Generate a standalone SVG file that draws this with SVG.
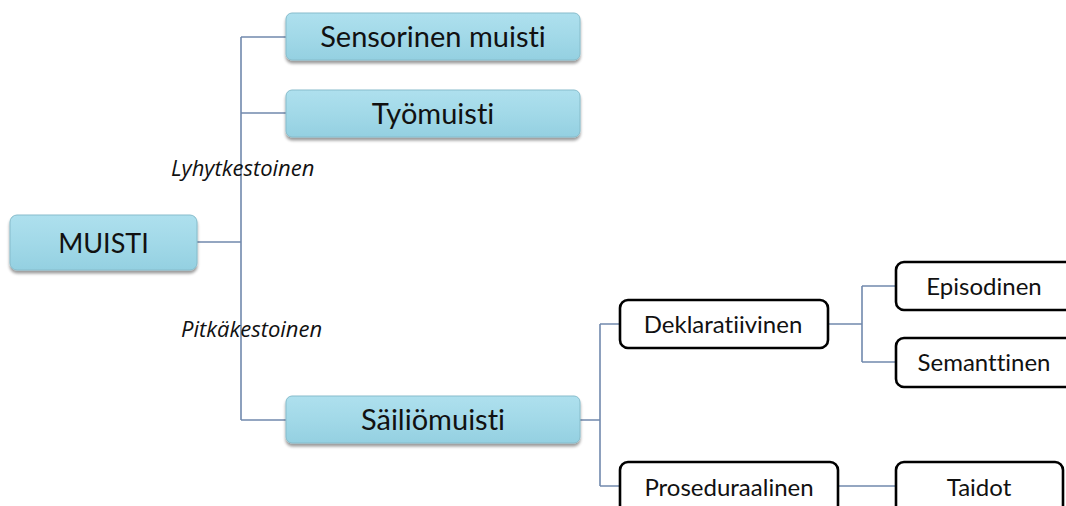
<svg xmlns="http://www.w3.org/2000/svg" width="1066" height="506" viewBox="0 0 1066 506">
  <style>
    .conn { fill: none; stroke: #7189ad; stroke-width: 1.6; }
    .blue { fill: url(#blueFill); stroke: #86bccb; stroke-width: 1; filter: url(#shadow); }
    .white { fill: #ffffff; stroke: #000000; stroke-width: 2.6; }
    text { font-variant-ligatures: none; }
    .big { font-family: Lato, "Open Sans", sans-serif; font-size: 29px; fill: #111; text-anchor: middle; }
    .small { font-family: Lato, "Open Sans", sans-serif; font-size: 24px; fill: #111; text-anchor: middle; }
    .lab { font-family: "Open Sans", "Noto Sans", sans-serif; font-size: 22px; font-style: italic; fill: #111; }
  </style>
  <defs>
    <linearGradient id="blueFill" x1="0" y1="0" x2="0" y2="1">
      <stop offset="0" stop-color="#aee0ee"/>
      <stop offset="0.5" stop-color="#a2d9e8"/>
      <stop offset="1" stop-color="#94d0e1"/>
    </linearGradient>
    <filter id="shadow" x="-10%" y="-20%" width="120%" height="150%">
      <feGaussianBlur in="SourceAlpha" stdDeviation="1.8"/>
      <feOffset dx="0" dy="2.5" result="b"/>
      <feComponentTransfer><feFuncA type="linear" slope="0.4"/></feComponentTransfer>
      <feMerge><feMergeNode/><feMergeNode in="SourceGraphic"/></feMerge>
    </filter>
  </defs>

  <g id="connectors">
    <path class="conn" d="M197 242 H241 M241 37 V420 M241 37 H286 M241 113 H286 M241 420 H286"/>
    <path class="conn" d="M580 420 H600 M600 324 V486 M600 324 H620 M600 486 H620"/>
    <path class="conn" d="M828 324 H862 M862 286 V362 M862 286 H896 M862 362 H896"/>
    <path class="conn" d="M838 486 H896"/>
  </g>

  <g id="labels">
    <text class="lab" x="171" y="176">Lyhytkestoinen</text>
    <text class="lab" x="181" y="337">Pitkäkestoinen</text>
  </g>

  <g id="muisti">
    <rect class="blue" x="10" y="215" width="187" height="55" rx="7"/>
    <text class="big" x="103.500" y="253" style="font-size:27px">MUISTI</text>
  </g>
  <g id="sensorinen">
    <rect class="blue" x="286" y="13" width="294" height="47" rx="6"/>
    <text class="big" x="433" y="47">Sensorinen muisti</text>
  </g>
  <g id="tyomuisti">
    <rect class="blue" x="286" y="90" width="294" height="47" rx="6"/>
    <text class="big" x="433" y="124">Työmuisti</text>
  </g>
  <g id="sailiomuisti">
    <rect class="blue" x="286" y="396" width="294" height="47" rx="6"/>
    <text class="big" x="433" y="430">Säiliömuisti</text>
  </g>

  <g id="deklaratiivinen">
    <rect class="white" x="620" y="300" width="208" height="48" rx="8"/>
    <text class="small" x="723" y="333">Deklaratiivinen</text>
  </g>
  <g id="proseduraalinen">
    <rect class="white" x="620" y="462" width="218" height="56" rx="8"/>
    <text class="small" x="729" y="496">Proseduraalinen</text>
  </g>
  <g id="episodinen">
    <rect class="white" x="896" y="262" width="180" height="48" rx="8"/>
    <text class="small" x="984" y="295">Episodinen</text>
  </g>
  <g id="semanttinen">
    <rect class="white" x="896" y="338" width="180" height="49" rx="8"/>
    <text class="small" x="984" y="371">Semanttinen</text>
  </g>
  <g id="taidot">
    <rect class="white" x="896" y="462" width="167" height="56" rx="8"/>
    <text class="small" x="979" y="496">Taidot</text>
  </g>
</svg>
